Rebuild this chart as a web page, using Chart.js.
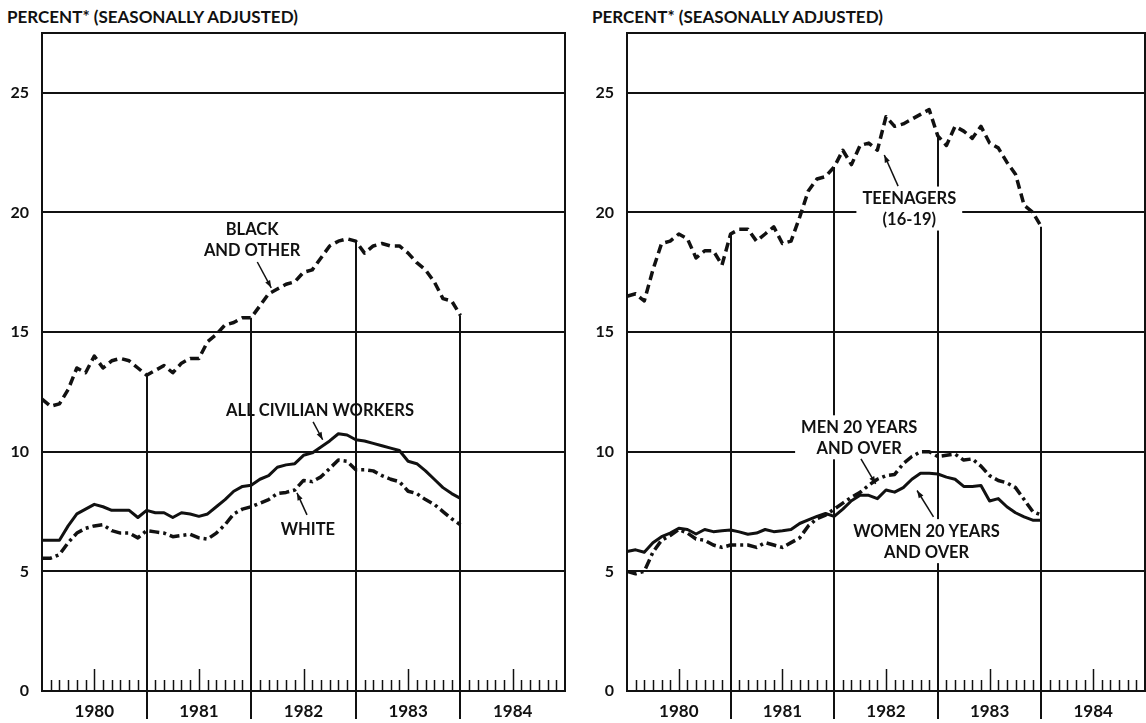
<!DOCTYPE html>
<html>
<head>
<meta charset="utf-8">
<script src="https://cdn.jsdelivr.net/npm/chart.js@4.4.1/dist/chart.umd.min.js"></script>
<style>
  html, body { margin: 0; padding: 0; background: #fff; overflow: hidden; }
  body { width: 1146px; height: 723px; position: relative; }
  canvas { position: absolute; top: 0; }
  .title { position: absolute; top: 6px; font: bold 17px Lato, sans-serif; color: #111; white-space: nowrap; }
</style>
</head>
<body>
<div class="title" style="left:7px">PERCENT* (SEASONALLY ADJUSTED)</div>
<div class="title" style="left:592px">PERCENT* (SEASONALLY ADJUSTED)</div>
<canvas id="left" width="580" height="723" style="left:0"></canvas>
<canvas id="right" width="575" height="723" style="left:580px"></canvas>
<script>
// monthly categories, Jan 1980 .. Jan 1985
const monthNames = ['JAN','FEB','MAR','APR','MAY','JUN','JUL','AUG','SEP','OCT','NOV','DEC'];
const years = ['1980','1981','1982','1983','1984'];
const categories = [];
years.forEach(y => monthNames.forEach(m => categories.push(m + ' ' + y)));
categories.push('JAN 1985');

const yTicks = [0, 5, 10, 15, 20, 25];

// left panel (Jan 1980 .. Jan 1984)
const blackOther = [12.2, 11.9, 12.0, 12.6, 13.5, 13.3, 14.0, 13.5, 13.8, 13.9, 13.8, 13.5,
  13.2, 13.4, 13.6, 13.3, 13.7, 13.9, 13.9, 14.6, 14.9, 15.3, 15.4, 15.6,
  15.6, 16.1, 16.6, 16.8, 17.0, 17.1, 17.5, 17.6, 18.1, 18.6, 18.8, 18.9,
  18.8, 18.3, 18.6, 18.7, 18.6, 18.6, 18.3, 17.9, 17.6, 17.1, 16.4, 16.3, 15.7];
const allCivilian = [6.3, 6.3, 6.3, 6.9, 7.4, 7.6, 7.8, 7.7, 7.55, 7.55, 7.55, 7.25,
  7.55, 7.45, 7.45, 7.25, 7.45, 7.4, 7.3, 7.4, 7.7, 8.0, 8.35, 8.55,
  8.6, 8.85, 9.0, 9.35, 9.45, 9.5, 9.85, 9.95, 10.2, 10.45, 10.75, 10.7,
  10.5, 10.45, 10.35, 10.25, 10.15, 10.05, 9.6, 9.5, 9.2, 8.85, 8.5, 8.25, 8.05];
const white = [5.55, 5.55, 5.7, 6.2, 6.6, 6.8, 6.9, 6.95, 6.7, 6.6, 6.6, 6.4,
  6.7, 6.65, 6.6, 6.45, 6.5, 6.55, 6.4, 6.35, 6.6, 6.95, 7.4, 7.6,
  7.7, 7.85, 8.0, 8.25, 8.3, 8.4, 8.8, 8.75, 8.95, 9.3, 9.65, 9.6,
  9.25, 9.25, 9.2, 9.0, 8.85, 8.75, 8.35, 8.25, 8.0, 7.8, 7.5, 7.2, 6.95];

// right panel
const teenagers = [16.5, 16.6, 16.3, 17.6, 18.7, 18.8, 19.1, 18.9, 18.1, 18.4, 18.4, 17.8,
  19.1, 19.3, 19.3, 18.8, 19.1, 19.4, 18.7, 18.8, 19.8, 20.9, 21.4, 21.5,
  21.9, 22.6, 22.0, 22.8, 22.9, 22.6, 24.0, 23.6, 23.7, 23.9, 24.1, 24.3,
  23.2, 22.8, 23.6, 23.4, 23.1, 23.6, 22.9, 22.7, 22.1, 21.6, 20.3, 20.0, 19.4];
const men20 = [5.0, 4.9, 5.0, 5.8, 6.3, 6.5, 6.75, 6.6, 6.35, 6.3, 6.1, 6.0,
  6.1, 6.1, 6.1, 6.0, 6.2, 6.1, 6.0, 6.2, 6.4, 6.9, 7.2, 7.35,
  7.6, 7.85, 8.1, 8.3, 8.6, 8.85, 9.0, 9.05, 9.5, 9.8, 10.0, 10.0,
  9.8, 9.85, 9.9, 9.65, 9.7, 9.4, 9.0, 8.8, 8.7, 8.5, 8.0, 7.5, 7.35];
const women20 = [5.83, 5.9, 5.8, 6.2, 6.45, 6.6, 6.8, 6.75, 6.56, 6.75, 6.66, 6.7,
  6.73, 6.65, 6.55, 6.6, 6.75, 6.66, 6.7, 6.75, 7.0, 7.15, 7.3, 7.42,
  7.3, 7.6, 7.95, 8.18, 8.18, 8.04, 8.4, 8.31, 8.5, 8.85, 9.1, 9.1,
  9.07, 8.94, 8.85, 8.55, 8.55, 8.59, 7.94, 8.04, 7.7, 7.45, 7.28, 7.14, 7.14];

const INK = '#111';
const Y_FONT = { family: 'Lato, sans-serif', size: 16, weight: 'bold' };
const X_FONT = { family: 'Lato, sans-serif', size: 17, weight: 'bold' };
const LABEL_FONT = 'bold 16.5px Lato, sans-serif';

// callouts: x = month index, y = percent
const leftNotes = [
  { lines: ['BLACK', 'AND OTHER'], x: 24.1, y: 19.27, arrow: [24.7, 17.93, 26.3, 16.85] },
  { lines: ['ALL CIVILIAN WORKERS'], x: 31.9, y: 11.7, arrow: [31.1, 11.25, 32.2, 10.5] },
  { lines: ['WHITE'], x: 30.5, y: 6.73, arrow: [30.4, 7.36, 29.25, 8.28] }
];
const rightNotes = [
  { lines: ['TEENAGERS', '(16-19)'], x: 32.7, y: 20.56, box: true, arrow: [31.4, 21.1, 29.8, 22.4] },
  { lines: ['MEN 20 YEARS', 'AND OVER'], x: 26.9, y: 11.0, box: true, arrow: [27.1, 9.7, 28.8, 8.66] },
  { lines: ['WOMEN 20 YEARS', 'AND OVER'], x: 34.7, y: 6.66, box: true, arrow: [35.5, 7.28, 33.6, 8.38] }
];

const panelDecor = {
  id: 'panelDecor',
  beforeDatasetsDraw(chart, args, opts) {
    const { ctx, chartArea: a, scales: { x, y } } = chart;
    ctx.save();
    ctx.strokeStyle = INK;
    ctx.fillStyle = INK;
    ctx.lineWidth = 2;
    ctx.beginPath();
    ctx.moveTo(a.left, a.top);
    ctx.lineTo(a.right, a.top);
    ctx.lineTo(a.right, a.bottom);
    ctx.stroke();

    // year-end drop lines from the top series
    const top = chart.data.datasets[0].data;
    chart.data.labels.forEach((lab, i) => {
      if (i > 0 && i < top.length && lab.startsWith('JAN')) {
        const px = Math.round(x.getPixelForValue(i));
        ctx.beginPath();
        ctx.moveTo(px, y.getPixelForValue(top[i]));
        ctx.lineTo(px, a.bottom + 28);
        ctx.stroke();
      }
    });

    ctx.font = LABEL_FONT;
    ctx.textAlign = 'center';
    ctx.textBaseline = 'middle';
    const lh = 21;
    opts.notes.forEach(n => {
      const cx = x.getPixelForValue(n.x);
      const cy = y.getPixelForValue(n.y);
      if (n.box) {
        const w = Math.max(...n.lines.map(t => ctx.measureText(t).width)) + 12;
        ctx.fillStyle = '#fff';
        ctx.fillRect(cx - w / 2, cy - lh / 2 - 2, w, lh * n.lines.length + 2);
        ctx.fillStyle = INK;
      }
      n.lines.forEach((t, k) => ctx.fillText(t, cx, cy + k * lh));
      const [x1, y1, x2, y2] = n.arrow;
      const ax = x.getPixelForValue(x1), ay = y.getPixelForValue(y1);
      const bx = x.getPixelForValue(x2), by = y.getPixelForValue(y2);
      ctx.lineWidth = 1.5;
      ctx.beginPath();
      ctx.moveTo(ax, ay);
      ctx.lineTo(bx, by);
      ctx.stroke();
      const ang = Math.atan2(by - ay, bx - ax);
      ctx.beginPath();
      ctx.moveTo(bx, by);
      ctx.lineTo(bx - 8 * Math.cos(ang - 0.35), by - 8 * Math.sin(ang - 0.35));
      ctx.lineTo(bx - 8 * Math.cos(ang + 0.35), by - 8 * Math.sin(ang + 0.35));
      ctx.closePath();
      ctx.fill();
      ctx.lineWidth = 2;
    });
    ctx.restore();
  },
  afterDraw(chart) {
    // monthly tick marks pointing up from the base line
    const { ctx, chartArea: a, scales: { x } } = chart;
    ctx.save();
    ctx.strokeStyle = INK;
    ctx.lineWidth = 1.5;
    chart.data.labels.forEach((lab, i) => {
      if (i === 0 || lab.startsWith('JAN')) return;
      const px = Math.round(x.getPixelForValue(i)) + 0.5;
      const len = lab.startsWith('JUL') ? 22 : 11;
      ctx.beginPath();
      ctx.moveTo(px, a.bottom);
      ctx.lineTo(px, a.bottom - len);
      ctx.stroke();
    });
    ctx.restore();
  }
};

function panelOptions(notes, axisWidth, padRight) {
  return {
    responsive: false,
    animation: false,
    layout: { padding: { top: 33, right: padRight, left: 0, bottom: 0 } },
    plugins: {
      legend: { display: false },
      tooltip: { enabled: false },
      panelDecor: { notes: notes }
    },
    elements: {
      point: { radius: 0 },
      line: { tension: 0, borderColor: INK, borderJoinStyle: 'round' }
    },
    scales: {
      x: {
        type: 'category',
        offset: false,
        grid: { display: false, drawTicks: false },
        border: { display: true, color: INK, width: 2 },
        ticks: {
          autoSkip: false,
          maxRotation: 0,
          padding: 10,
          color: INK,
          font: X_FONT,
          callback: function(value) {
            const lab = categories[value];
            return lab.startsWith('JUL') ? lab.slice(4) : '';
          }
        },
        afterFit: function(scale) { scale.height = 32; }
      },
      y: {
        min: 0,
        max: 27.5,
        afterBuildTicks: function(scale) { scale.ticks = yTicks.map(v => ({ value: v })); },
        grid: { color: INK, lineWidth: 2, drawTicks: false },
        border: { color: INK, width: 2 },
        ticks: { padding: 13, color: INK, font: Y_FONT },
        afterFit: function(scale) { scale.width = axisWidth; }
      }
    }
  };
}

new Chart(document.getElementById('left'), {
  type: 'line',
  data: {
    labels: categories,
    datasets: [
      { data: blackOther, borderWidth: 3.5, borderDash: [9, 5] },
      { data: allCivilian, borderWidth: 3 },
      { data: white, borderWidth: 3.5, borderDash: [10, 4, 3, 4] }
    ]
  },
  options: panelOptions(leftNotes, 42, 15),
  plugins: [panelDecor]
});

new Chart(document.getElementById('right'), {
  type: 'line',
  data: {
    labels: categories,
    datasets: [
      { data: teenagers, borderWidth: 3.5, borderDash: [9, 5] },
      { data: men20, borderWidth: 3.5, borderDash: [10, 4, 3, 4] },
      { data: women20, borderWidth: 3 }
    ]
  },
  options: panelOptions(rightNotes, 47, 5),
  plugins: [panelDecor]
});
</script>
</body>
</html>
